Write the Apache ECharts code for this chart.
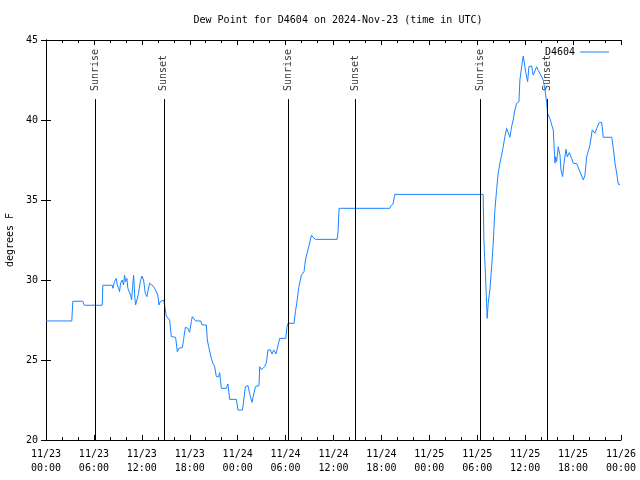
<!DOCTYPE html>
<html>
<head>
<meta charset="utf-8">
<script src="https://cdn.jsdelivr.net/npm/echarts@6/dist/echarts.min.js"></script>
<style>html,body{margin:0;padding:0;background:#fff}#c{width:640px;height:480px}</style>
</head>
<body>
<div id="c"></div>
<script>
// Hours since 2024-11-23 00:00 UTC
const hours = [0,3.23,3.36,4.61,4.79,7.04,7.12,8.30,8.37,8.58,8.80,8.92,9.09,9.21,9.34,9.55,9.71,9.84,9.96,10.13,10.25,10.46,10.59,10.72,10.84,10.97,11.13,11.22,11.38,11.59,11.81,12.01,12.22,12.43,12.63,12.76,12.97,13.22,13.39,13.60,13.81,14.01,14.14,14.31,14.44,14.73,14.85,15.06,15.26,15.48,15.69,16.23,16.44,16.64,17.07,17.23,17.45,17.77,17.98,18.20,18.32,18.52,18.74,19.36,19.53,20.08,20.20,20.37,20.62,20.70,20.90,21.12,21.33,21.62,21.74,21.96,22.58,22.78,23.00,23.84,24.04,24.59,24.66,24.88,24.97,25.29,25.50,25.72,25.79,26.04,26.22,26.47,26.67,26.76,26.97,27.38,27.60,27.80,28.10,28.30,28.51,28.80,29.05,29.26,30.02,30.18,30.30,31.06,31.23,31.43,31.65,31.90,31.98,32.31,32.49,32.69,32.90,33.24,33.44,33.74,36.45,36.57,36.70,43.05,43.18,43.46,43.68,54.74,54.83,55.04,55.17,55.24,55.37,55.58,55.80,56.00,56.21,56.42,56.62,56.84,57.05,57.25,57.46,57.68,57.88,58.09,58.30,58.50,58.72,58.93,59.22,59.34,59.56,59.76,59.97,60.10,60.31,60.47,60.81,61.01,61.44,61.64,61.85,62.26,62.48,62.69,62.81,63.10,63.32,63.52,63.73,63.82,63.94,64.14,64.36,64.48,64.69,64.86,65.11,65.27,65.52,65.82,66.02,66.45,66.86,67.28,67.49,67.70,68.12,68.40,68.53,68.74,68.96,69.28,69.58,69.78,70.84,71.04,71.25,71.46,71.66,71.88];
const dewF = [27.44,27.44,28.67,28.67,28.42,28.42,29.67,29.67,29.48,29.9,30.1,29.69,29.48,29.27,29.8,30.0,29.69,30.31,29.9,30.1,29.48,29.42,29.06,28.75,29.6,30.3,28.85,28.44,28.75,29.17,29.9,30.25,30.0,29.17,28.96,28.85,29.8,29.8,29.63,29.48,29.42,29.06,28.44,28.65,28.75,28.75,28.44,27.75,27.67,27.5,26.46,26.42,25.52,25.73,25.77,26.29,27.04,26.98,26.73,27.4,27.71,27.6,27.44,27.44,27.19,27.19,26.25,25.83,25.83,25.1,24.79,24.58,23.96,23.96,24.21,23.23,23.23,23.5,22.54,22.54,21.875,21.875,22.08,22.08,23.33,23.4,22.9,22.9,22.35,22.35,23.33,23.4,23.4,24.58,24.4,24.58,24.85,25.63,25.63,25.375,25.63,25.375,25.375,26.35,26.35,27.08,27.29,27.29,28.02,28.65,29.54,29.54,30.3,30.52,31.25,31.67,32.08,32.81,32.67,32.54,32.54,33.02,34.48,34.48,34.63,34.75,35.35,35.35,32.5,30.2,28.54,27.6,28.54,29.38,30.83,32.3,34.4,35.6,36.67,37.3,37.8,38.33,38.96,39.48,39.58,38.92,39.58,40.0,40.63,41.04,41.14,42.5,43.33,44.0,43.33,42.9,42.4,43.33,43.38,42.8,43.33,43.1,42.9,42.5,41.9,41.1,40.4,40.1,39.69,39.38,37.3,37.7,37.4,38.33,37.8,36.88,36.46,37.3,38.17,37.7,37.96,37.6,37.3,37.27,36.77,36.25,36.56,37.7,38.44,39.38,39.48,39.17,39.48,39.85,39.85,38.92,38.92,38.23,37.3,36.67,35.98,35.98];
const tickLabels = ['11/23\n00:00','11/23\n06:00','11/23\n12:00','11/23\n18:00','11/24\n00:00','11/24\n06:00','11/24\n12:00','11/24\n18:00','11/25\n00:00','11/25\n06:00','11/25\n12:00','11/25\n18:00','11/26\n00:00'];
const eventNames = ['Sunrise','Sunset','Sunrise','Sunset','Sunrise','Sunset'];
const eventHours = [6.20,14.76,30.31,38.70,54.37,62.77];

const FONT = 'DejaVu Sans Mono';
const Y_MIN = 20, Y_MAX = 45, LINE_TOP = 41.31, LABEL_BASE = 41.75;

const chart = echarts.init(document.getElementById('c'), null, {renderer: 'canvas'});
const axisLine = {show: true, lineStyle: {color: '#000', width: 1}};
const txt = {fontFamily: FONT, fontSize: 10, color: '#000'};

chart.setOption({
  animation: false,
  backgroundColor: '#fff',
  title: {
    text: 'Dew Point for D4604 on 2024-Nov-23 (time in UTC)',
    left: 333, top: 10, textAlign: 'center',
    textStyle: Object.assign({}, txt, {fontWeight: 'normal'})
  },
  legend: {
    data: [{name: 'D4604', icon: 'rect'}],
    right: 26, top: 42, align: 'right',
    itemWidth: 29, itemHeight: 1, itemGap: 5,
    textStyle: txt,
    selectedMode: false
  },
  grid: {left: 46, right: 19, top: 40, bottom: 40, containLabel: false, outerBoundsMode: 'none'},
  xAxis: [{
    type: 'value', min: 0, max: 72, interval: 6,
    axisLine: axisLine,
    axisTick: {show: true, inside: true, length: 5, lineStyle: {color: '#000'}},
    minorTick: {show: true, splitNumber: 3, length: 3, lineStyle: {color: '#000'}},
    splitLine: {show: false},
    axisLabel: Object.assign({}, txt, {margin: 7, lineHeight: 14, hideOverlap: false, formatter: v => tickLabels[Math.round(v / 6)]})
  }, {
    type: 'value', min: 0, max: 72, interval: 6, position: 'top',
    axisLine: axisLine,
    axisTick: {show: true, inside: true, length: 5, lineStyle: {color: '#000'}},
    minorTick: {show: true, splitNumber: 3, length: 3, lineStyle: {color: '#000'}},
    splitLine: {show: false},
    axisLabel: {show: false}
  }],
  yAxis: [{
    type: 'value', min: Y_MIN, max: Y_MAX, interval: 5,
    name: 'degrees F', nameLocation: 'middle', nameGap: 30, nameRotate: 90,
    nameTextStyle: txt,
    axisLine: axisLine,
    axisTick: {show: true, inside: true, length: 5, lineStyle: {color: '#000'}},
    splitLine: {show: false},
    axisLabel: Object.assign({}, txt, {margin: 8})
  }, {
    type: 'value', min: Y_MIN, max: Y_MAX, interval: 5, position: 'right',
    axisLine: axisLine,
    axisTick: {show: true, inside: true, length: 5, lineStyle: {color: '#000'}},
    splitLine: {show: false},
    axisLabel: {show: false}
  }],
  series: [{
    name: 'events',
    type: 'scatter',
    symbolSize: 0,
    silent: true,
    data: eventHours.map((h, i) => ({value: [h, LABEL_BASE], name: eventNames[i]})),
    label: {
      show: true, position: 'inside', rotate: 90, align: 'left', verticalAlign: 'middle',
      offset: [1, 0],
      formatter: p => p.name, fontFamily: FONT, fontSize: 10, color: '#000'
    },
    markLine: {
      silent: true, symbol: ['none', 'none'], animation: false,
      label: {show: false},
      lineStyle: {color: '#000', width: 1, type: 'solid'},
      data: eventHours.map(h => [{coord: [h, Y_MIN]}, {coord: [h, LINE_TOP]}])
    }
  }, {
    name: 'D4604',
    type: 'line',
    data: hours.map((h, i) => [h, dewF[i]]),
    symbol: 'none',
    lineStyle: {color: '#1a84ff', width: 1},
    itemStyle: {color: '#1a84ff'},
    sampling: null,
    z: 3
  }]
});
</script>
</body>
</html>
